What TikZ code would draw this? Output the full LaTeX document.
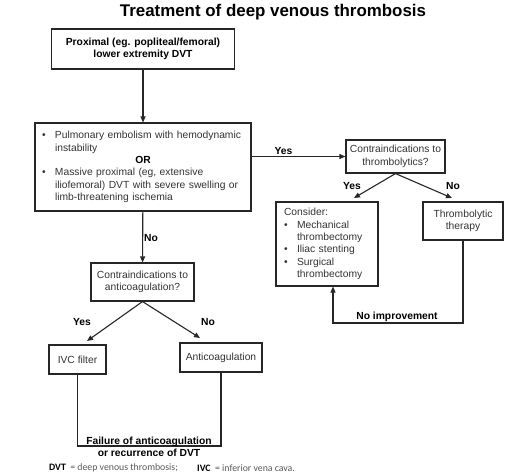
\documentclass[tikz,border=0pt]{standalone}
\usepackage{fontspec}
\setmainfont{Liberation Sans}
\newfontfamily\notefont{Carlito}
\usetikzlibrary{arrows.meta, positioning}

\newcommand{\bul}{\makebox[13pt][l]{\textbullet}}
\newcommand{\ind}{\hspace*{13pt}}

\begin{document}
\begin{tikzpicture}[x=1pt, y=-1pt,
    box/.style={draw=black!85, line width=1.1pt, rectangle, inner sep=0pt, text=black!80, font=\fontsize{10.3}{12.4}\selectfont, align=center},
    lab/.style={font=\bfseries\fontsize{10.3}{12.4}\selectfont, inner sep=1pt},
    arr/.style={draw=black!85, line width=1.1pt, -{Triangle[length=6pt, width=5pt]}},
    link/.style={draw=black!85, line width=1.1pt}]
\useasboundingbox (0,0) rectangle (519,475);

\node[font=\bfseries\fontsize{16.9}{20}\selectfont] (title) at (273,12) {Treatment of deep venous thrombosis};

\node[box, text=black, font=\bfseries\fontsize{10.3}{12.4}\selectfont, minimum width=183pt, minimum height=40pt] (prox) at (143,49) {Proximal (eg. popliteal/femoral)\\lower extremity DVT};
\node[box, minimum width=216pt, minimum height=88pt, text width=202pt, align=left] (crit) at (143,167) {\bul Pulmonary embolism with hemodynamic\\
\ind instability\\
\makebox[202pt][c]{\textbf{\color{black}OR}}\\
\bul Massive proximal (eg, extensive\\
\ind iliofemoral) DVT with severe swelling or\\
\ind limb-threatening ischemia};

\node[box, minimum width=99pt, minimum height=33pt] (thrombq) at (395.5,156.5) {Contraindications to\\thrombolytics?};
\node[box, minimum width=102pt, minimum height=84pt, text width=86pt, align=left] (consider) at (327,244) {Consider:\\
\bul Mechanical\\
\ind thrombectomy\\
\bul Iliac stenting\\
\bul Surgical\\
\ind thrombectomy};
\node[box, minimum width=80pt, minimum height=38pt] (therapy) at (463,221) {Thrombolytic\\therapy};

\node[box, minimum width=103pt, minimum height=38pt] (antico) at (142.5,282) {Contraindications to\\anticoagulation?};
\node[box, minimum width=57pt, minimum height=29pt] (ivc) at (77.5,359.5) {IVC filter};
\node[box, minimum width=82pt, minimum height=29pt] (anticoag) at (221,357.5) {Anticoagulation};

\coordinate (tyes) at (354,198);
\coordinate (tno) at (452,198);
\coordinate (ayes) at (87,341);
\coordinate (ano) at (200,338);
\coordinate (fb) at (333,323);
\coordinate (ubase) at (0,446);

\draw[arr] (prox) -- (crit);
\draw[arr] (crit.east |- thrombq.west) -- node[lab, above, pos=0.34] (yes1) {Yes} (thrombq.west);
\draw[arr] (crit) -- node[lab, right, pos=0.52] (no1) {No} (antico);

\draw[arr] (thrombq.south) -- (tyes);
\draw[arr] (thrombq.south) -- (tno);
\node[lab] (yes2) at (352,186) {Yes};
\node[lab] (no2) at (453,186) {No};

\draw[arr] (therapy.south) |- (fb) -- (fb |- consider.south);
\node[lab] (noimp) at (397,317) {No improvement};

\draw[arr] (antico.south) -- (ayes);
\draw[arr] (antico.south) -- (ano);
\node[lab] (yes3) at (82,322) {Yes};
\node[lab] (no3) at (208,322) {No};

\draw[link] (ivc.south) -- (ivc.south |- ubase) -- (anticoag.south |- ubase) -- (anticoag.south);
\node[font=\bfseries\fontsize{10.3}{12.4}\selectfont, align=center, inner sep=0pt] (fail) at (149,447) {Failure of anticoagulation\\or recurrence of DVT};

\node[anchor=west, inner sep=0pt, font=\notefont\fontsize{9.8}{11}\selectfont, text=black!65] (note1) at (49,468) {\textbf{\color{black}DVT}\ \ = deep venous thrombosis;};
\node[anchor=west, inner sep=0pt, font=\notefont\fontsize{9.8}{11}\selectfont, text=black!65] (note2) at (197,468) {\textbf{\color{black}IVC}\ \ = inferior vena cava.};

\end{tikzpicture}
\end{document}
